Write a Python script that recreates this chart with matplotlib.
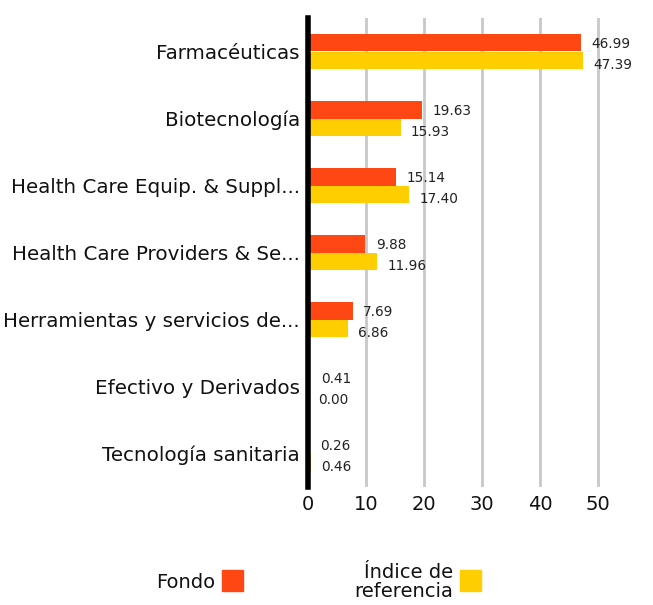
import matplotlib
matplotlib.use("Agg")
import matplotlib.pyplot as plt
from matplotlib.patches import Rectangle

plt.rcParams['font.family'] = ['DejaVu Sans']

categories = ["Farmacéuticas", "Biotecnología", "Health Care Equip. & Suppl...",
              "Health Care Providers & Se...", "Herramientas y servicios de...",
              "Efectivo y Derivados", "Tecnología sanitaria"]
fondo = [46.99, 19.63, 15.14, 9.88, 7.69, 0.41, 0.26]
indice = [47.39, 15.93, 17.40, 11.96, 6.86, 0.00, 0.46]
xticks = [0, 10, 20, 30, 40, 50]
series_names = ["Fondo", "Índice de\nreferencia"]
c_fondo = "#FF4713"
c_indice = "#FFCE00"

fig = plt.figure(figsize=(6.53, 6.05), dpi=100)
ax = fig.add_axes([308/653, 1-487/605, 331/653, 469/605])

h = 0.255
ys = list(range(len(categories)))
for i, (f, b) in enumerate(zip(fondo, indice)):
    ax.barh(i - h/2, f, height=h, color=c_fondo, zorder=3)
    ax.barh(i + h/2, b, height=h, color=c_indice, zorder=3)
    ax.annotate(f"{f:.2f}", (f, i - h/2), xytext=(7.5, -0.5), textcoords="offset points",
                va="center", ha="left", fontsize=9.8, color="#222222")
    ax.annotate(f"{b:.2f}", (b, i + h/2), xytext=(7.5, -3.3), textcoords="offset points",
                va="center", ha="left", fontsize=9.8, color="#222222")

ax.set_ylim(len(categories) - 0.5, -0.5)
ax.set_xlim(0, 57)
ax.set_yticks(ys)
ax.set_yticklabels(categories, fontsize=14.3, color="#111111")
ax.set_xticks(xticks)
ax.set_xticklabels([str(t) for t in xticks], fontsize=14, color="#111111")
ax.tick_params(axis="both", length=0)
ax.tick_params(axis="y", pad=6)
ax.tick_params(axis="x", pad=6)
ax.xaxis.grid(True, color="#c8c8c8", linewidth=2, zorder=0)
for s in ["top", "right", "bottom"]:
    ax.spines[s].set_visible(False)
ax.spines["left"].set_linewidth(4)
ax.spines["left"].set_color("black")
ax.spines["left"].set_zorder(5)

# legend
fig.text(215/653, 1-582/605, series_names[0], ha="right", va="center", fontsize=14, color="#111111")
fig.patches.append(Rectangle((222/653, 1-591/605), 21/653, 21/605, transform=fig.transFigure,
                             color=c_fondo, figure=fig))
fig.text(453/653, 1-582/605, series_names[1], ha="right", va="center", fontsize=14,
         color="#111111", multialignment="right", linespacing=1.05)
fig.patches.append(Rectangle((460/653, 1-591/605), 21/653, 21/605, transform=fig.transFigure,
                             color=c_indice, figure=fig))

fig.savefig("out.png", dpi=100)
